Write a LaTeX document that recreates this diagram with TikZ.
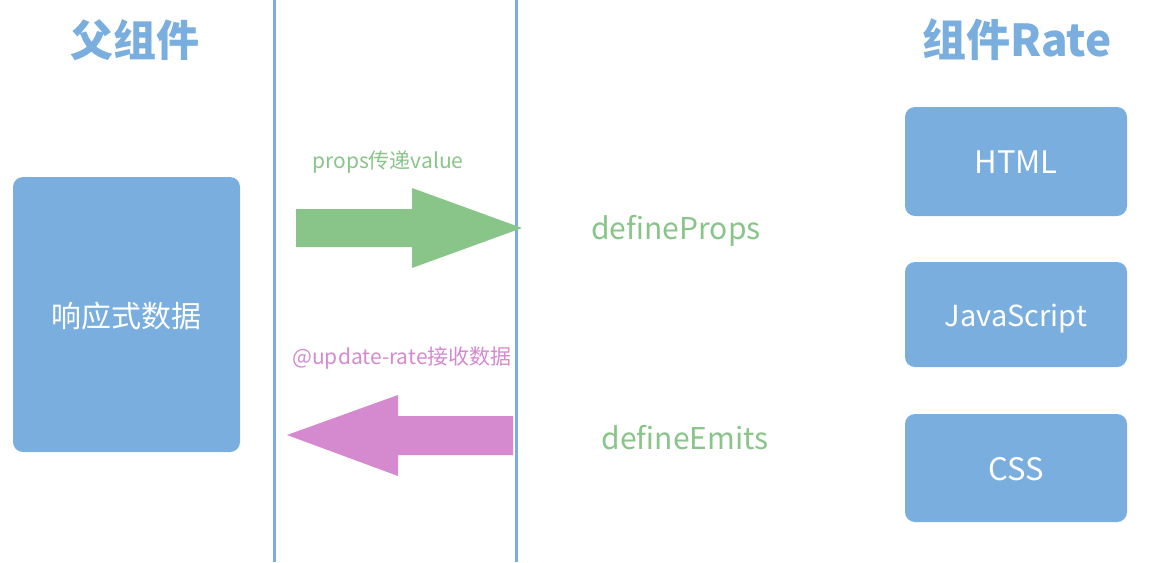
\documentclass[tikz,border=0pt]{standalone}
\usepackage{fontspec}
\setmainfont{Noto Sans CJK SC}
\definecolor{blu}{RGB}{122,174,222}
\definecolor{grn}{RGB}{137,196,137}
\definecolor{pnk}{RGB}{213,137,206}
\tikzset{
  box/.style={fill=blu, draw=none, rounded corners=10pt, inner sep=0pt},
  title/.style={text=blu, font=\fontsize{43}{48}\selectfont\bfseries},
  lbl/.style={font=\fontsize{30}{34}\selectfont},
  boxlbl/.style={text=white, font=\fontsize{31}{34}\selectfont},
  small/.style={font=\fontsize{21}{24}\selectfont},
  sep/.style={draw=blu, line width=3pt}
}
\begin{document}
\begin{tikzpicture}[x=1pt,y=-1pt]
\useasboundingbox (0,0) rectangle (1174,562);
% separators
\coordinate (l1t) at (274,0); \coordinate (l1b) at (274,562);
\coordinate (l2t) at (516,0); \coordinate (l2b) at (516,562);
\draw[sep] (l1t) -- (l1b);
\draw[sep] (l2t) -- (l2b);
% titles
\node[title] (tp) at (135,40) {父组件};
\node[title, font=\fontsize{44}{48}\selectfont\bfseries] (tc) at (1017,40) {组件Rate};
% left box
\node[box, minimum width=227pt, minimum height=275pt,
  label={[boxlbl, font=\fontsize{30}{34}\selectfont, yshift=-2pt]center:响应式数据}] (data) at (126.5,314.5) {};
% right boxes
\node[box, minimum width=222pt, minimum height=109pt,
  label={[boxlbl, yshift=-1pt]center:HTML}] (html) at (1016,161.5) {};
\node[box, minimum width=222pt, minimum height=105pt,
  label={[boxlbl, font=\fontsize{29}{34}\selectfont, yshift=-4pt]center:JavaScript}] (js) at (1016,314.5) {};
\node[box, minimum width=222pt, minimum height=108pt,
  label={[boxlbl, yshift=-1.5pt]center:CSS}] (css) at (1016,468) {};
% arrows
\fill[grn] (296,209) -- (412,209) -- (412,188) -- (522,228) -- (412,268) -- (412,247) -- (296,247) -- cycle;
\fill[pnk] (513,416) -- (398,416) -- (398,395) -- (287,435) -- (398,476) -- (398,455) -- (513,455) -- cycle;
% labels
\node[small, text=grn] (pv) at (388,162) {props传递value};
\node[small, text=pnk] (ur) at (402,358) {@update-rate接收数据};
\node[lbl, text=grn] (dp) at (676,231) {defineProps};
\node[lbl, text=grn] (de) at (685,438) {defineEmits};
\end{tikzpicture}
\end{document}
